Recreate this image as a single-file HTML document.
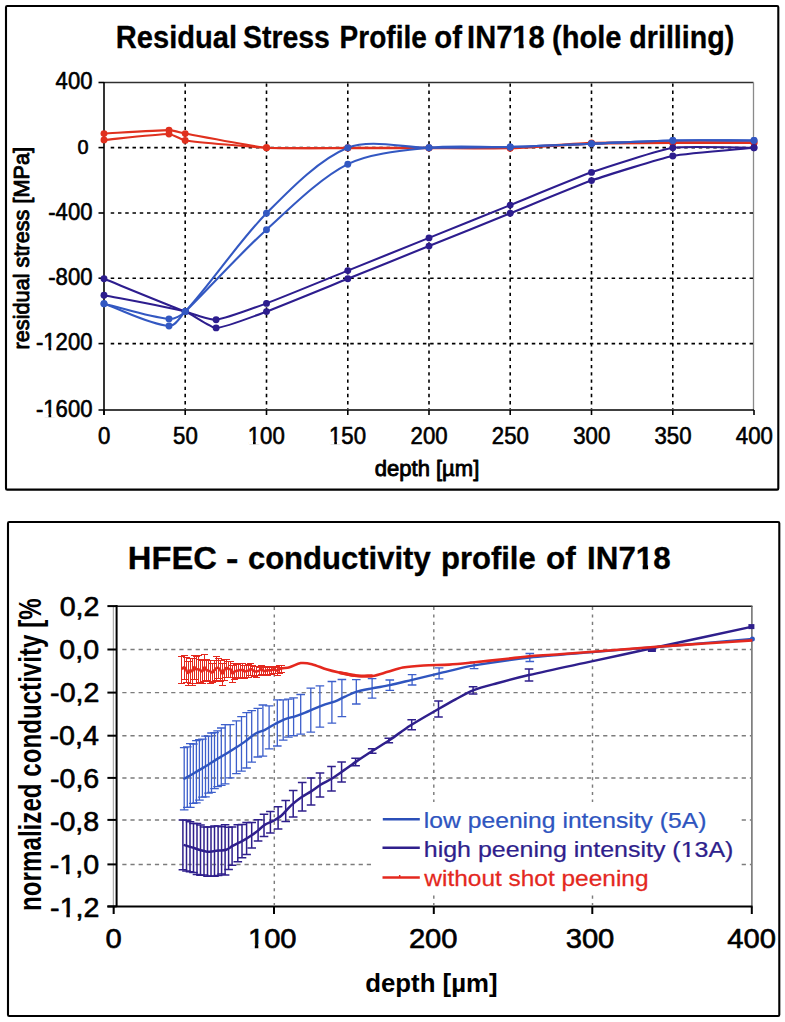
<!DOCTYPE html><html><head><meta charset="utf-8"><style>html,body{margin:0;padding:0;background:#fff;}svg{display:block;} text{font-family:"Liberation Sans", sans-serif;}</style></head><body>
<svg width="785" height="1022" viewBox="0 0 785 1022">
<defs><clipPath id="topclip"><rect x="96" y="75" width="665" height="345"/></clipPath><clipPath id="botclip"><rect x="117" y="606" width="640" height="300"/></clipPath></defs>
<rect width="785" height="1022" fill="#fff"/>
<rect x="6" y="6" width="772.3" height="483.6" rx="1.2" fill="none" stroke="#000" stroke-width="2.1"/>
<text transform="translate(115.85,47.90) scale(0.9381,1)" font-size="31.00" font-weight="bold" fill="#000" stroke="#000" stroke-width="0.30" stroke-linejoin="round">Residual</text>
<text transform="translate(242.98,47.90) scale(0.9166,1)" font-size="31.00" font-weight="bold" fill="#000" stroke="#000" stroke-width="0.30" stroke-linejoin="round">Stress</text>
<text transform="translate(339.62,47.90) scale(0.9043,1)" font-size="31.00" font-weight="bold" fill="#000" stroke="#000" stroke-width="0.30" stroke-linejoin="round">Profile</text>
<text transform="translate(434.25,47.90) scale(0.9463,1)" font-size="31.00" font-weight="bold" fill="#000" stroke="#000" stroke-width="0.30" stroke-linejoin="round">of</text>
<text transform="translate(467.05,47.90) scale(0.9386,1)" font-size="31.00" font-weight="bold" fill="#000" stroke="#000" stroke-width="0.30" stroke-linejoin="round">IN718</text>
<g transform="translate(467.05,47.90) scale(0.9386,1)" fill="#fff"><rect x="48.85" y="-4.84" width="6.08" height="6.21"/><rect x="60.27" y="-4.84" width="5.37" height="6.21"/></g>
<text transform="translate(551.95,47.90) scale(0.9392,1)" font-size="31.00" font-weight="bold" fill="#000" stroke="#000" stroke-width="0.30" stroke-linejoin="round">(hole</text>
<text transform="translate(629.33,47.90) scale(0.9230,1)" font-size="31.00" font-weight="bold" fill="#000" stroke="#000" stroke-width="0.30" stroke-linejoin="round">drilling)</text>
<line x1="104" y1="82.5" x2="753.5" y2="82.5" stroke="#303030" stroke-width="1.3"/>
<line x1="753.5" y1="82.5" x2="753.5" y2="410" stroke="#8a8a8a" stroke-width="1.3"/>
<line x1="110.7" y1="147.6" x2="753" y2="147.6" stroke="#000" stroke-width="1.6" stroke-dasharray="3.5 3.76"/>
<line x1="110.7" y1="213.0" x2="753" y2="213.0" stroke="#000" stroke-width="1.6" stroke-dasharray="3.5 3.76"/>
<line x1="110.7" y1="278.2" x2="753" y2="278.2" stroke="#000" stroke-width="1.6" stroke-dasharray="3.5 3.76"/>
<line x1="110.7" y1="343.6" x2="753" y2="343.6" stroke="#000" stroke-width="1.6" stroke-dasharray="3.5 3.76"/>
<line x1="185.2" y1="83.4" x2="185.2" y2="409" stroke="#000" stroke-width="1.6" stroke-dasharray="3.3 3.92"/>
<line x1="266.5" y1="83.4" x2="266.5" y2="409" stroke="#000" stroke-width="1.6" stroke-dasharray="3.3 3.92"/>
<line x1="347.8" y1="83.4" x2="347.8" y2="409" stroke="#000" stroke-width="1.6" stroke-dasharray="3.3 3.92"/>
<line x1="429.0" y1="83.4" x2="429.0" y2="409" stroke="#000" stroke-width="1.6" stroke-dasharray="3.3 3.92"/>
<line x1="510.2" y1="83.4" x2="510.2" y2="409" stroke="#000" stroke-width="1.6" stroke-dasharray="3.3 3.92"/>
<line x1="591.5" y1="83.4" x2="591.5" y2="409" stroke="#000" stroke-width="1.6" stroke-dasharray="3.3 3.92"/>
<line x1="672.8" y1="83.4" x2="672.8" y2="409" stroke="#000" stroke-width="1.6" stroke-dasharray="3.3 3.92"/>
<line x1="104" y1="82" x2="104" y2="415" stroke="#000" stroke-width="1.6"/>
<line x1="98.5" y1="410" x2="754" y2="410" stroke="#000" stroke-width="1.6"/>
<line x1="98.5" y1="82.5" x2="104" y2="82.5" stroke="#000" stroke-width="1.6"/>
<line x1="98.5" y1="147.6" x2="104" y2="147.6" stroke="#000" stroke-width="1.6"/>
<line x1="98.5" y1="213.0" x2="104" y2="213.0" stroke="#000" stroke-width="1.6"/>
<line x1="98.5" y1="278.2" x2="104" y2="278.2" stroke="#000" stroke-width="1.6"/>
<line x1="98.5" y1="343.6" x2="104" y2="343.6" stroke="#000" stroke-width="1.6"/>
<line x1="104.0" y1="410" x2="104.0" y2="415" stroke="#000" stroke-width="1.6"/>
<line x1="185.2" y1="410" x2="185.2" y2="415" stroke="#000" stroke-width="1.6"/>
<line x1="266.5" y1="410" x2="266.5" y2="415" stroke="#000" stroke-width="1.6"/>
<line x1="347.8" y1="410" x2="347.8" y2="415" stroke="#000" stroke-width="1.6"/>
<line x1="429.0" y1="410" x2="429.0" y2="415" stroke="#000" stroke-width="1.6"/>
<line x1="510.2" y1="410" x2="510.2" y2="415" stroke="#000" stroke-width="1.6"/>
<line x1="591.5" y1="410" x2="591.5" y2="415" stroke="#000" stroke-width="1.6"/>
<line x1="672.8" y1="410" x2="672.8" y2="415" stroke="#000" stroke-width="1.6"/>
<line x1="754.0" y1="410" x2="754.0" y2="415" stroke="#000" stroke-width="1.6"/>
<text transform="translate(55.62,89.20) scale(0.9600,1)" font-size="23.00" font-weight="normal" fill="#000" stroke="#000" stroke-width="0.60" stroke-linejoin="round">400</text>
<text transform="translate(48.27,219.70) scale(0.9600,1)" font-size="23.00" font-weight="normal" fill="#000" stroke="#000" stroke-width="0.60" stroke-linejoin="round">-400</text>
<text transform="translate(48.27,284.90) scale(0.9600,1)" font-size="23.00" font-weight="normal" fill="#000" stroke="#000" stroke-width="0.60" stroke-linejoin="round">-800</text>
<text transform="translate(35.99,350.30) scale(0.9600,1)" font-size="23.00" font-weight="normal" fill="#000" stroke="#000" stroke-width="0.60" stroke-linejoin="round">-1200</text>
<g transform="translate(35.99,350.30) scale(0.9600,1)" fill="#fff"><rect x="8.11" y="-2.98" width="4.96" height="3.99"/><rect x="15.85" y="-2.98" width="4.84" height="3.99"/></g>
<text transform="translate(35.99,416.70) scale(0.9600,1)" font-size="23.00" font-weight="normal" fill="#000" stroke="#000" stroke-width="0.60" stroke-linejoin="round">-1600</text>
<g transform="translate(35.99,416.70) scale(0.9600,1)" fill="#fff"><rect x="8.11" y="-2.98" width="4.96" height="3.99"/><rect x="15.85" y="-2.98" width="4.84" height="3.99"/></g>
<text transform="translate(77.61,154.00) scale(0.9800,1)" font-size="20.30" font-weight="normal" fill="#000" stroke="#000" stroke-width="0.60" stroke-linejoin="round">0</text>
<text transform="translate(98.03,443.60) scale(0.9650,1)" font-size="23.00" font-weight="normal" fill="#000" stroke="#000" stroke-width="0.60" stroke-linejoin="round">0</text>
<text transform="translate(173.10,443.60) scale(0.9650,1)" font-size="23.00" font-weight="normal" fill="#000" stroke="#000" stroke-width="0.60" stroke-linejoin="round">50</text>
<text transform="translate(247.77,443.60) scale(0.9650,1)" font-size="23.00" font-weight="normal" fill="#000" stroke="#000" stroke-width="0.60" stroke-linejoin="round">100</text>
<g transform="translate(247.77,443.60) scale(0.9650,1)" fill="#fff"><rect x="0.45" y="-2.98" width="4.96" height="3.99"/><rect x="8.19" y="-2.98" width="4.84" height="3.99"/></g>
<text transform="translate(329.02,443.60) scale(0.9650,1)" font-size="23.00" font-weight="normal" fill="#000" stroke="#000" stroke-width="0.60" stroke-linejoin="round">150</text>
<g transform="translate(329.02,443.60) scale(0.9650,1)" fill="#fff"><rect x="0.45" y="-2.98" width="4.96" height="3.99"/><rect x="8.19" y="-2.98" width="4.84" height="3.99"/></g>
<text transform="translate(410.56,443.60) scale(0.9650,1)" font-size="23.00" font-weight="normal" fill="#000" stroke="#000" stroke-width="0.60" stroke-linejoin="round">200</text>
<text transform="translate(491.81,443.60) scale(0.9650,1)" font-size="23.00" font-weight="normal" fill="#000" stroke="#000" stroke-width="0.60" stroke-linejoin="round">250</text>
<text transform="translate(573.20,443.60) scale(0.9650,1)" font-size="23.00" font-weight="normal" fill="#000" stroke="#000" stroke-width="0.60" stroke-linejoin="round">300</text>
<text transform="translate(654.45,443.60) scale(0.9650,1)" font-size="23.00" font-weight="normal" fill="#000" stroke="#000" stroke-width="0.60" stroke-linejoin="round">350</text>
<text transform="translate(735.86,443.60) scale(0.9650,1)" font-size="23.00" font-weight="normal" fill="#000" stroke="#000" stroke-width="0.60" stroke-linejoin="round">400</text>
<text transform="translate(374.78,475.80) scale(1.0102,1)" font-size="21.80" font-weight="normal" fill="#000" stroke="#000" stroke-width="0.85" stroke-linejoin="round">depth [µm]</text>
<text transform="translate(28.70,349.44) scale(1.0000,1) rotate(-90) scale(1.0009,1)" font-size="21.70" font-weight="normal" fill="#000" stroke="#000" stroke-width="0.90" stroke-linejoin="round">residual stress [MPa]</text>
<g clip-path="url(#topclip)">
<path d="M104.00 133.55 C113.75 133.04 159.24 130.12 169.00 130.12 C171.49 130.12 182.80 133.11 185.25 133.55 C197.42 135.76 254.17 146.72 266.50 147.80 C278.64 148.86 335.56 147.80 347.75 147.80 C359.94 147.80 416.81 147.80 429.00 147.80 C441.19 147.80 498.07 148.17 510.25 147.80 C522.45 147.43 579.30 143.29 591.50 142.89 C603.68 142.48 660.56 142.43 672.75 142.40 C684.94 142.36 741.81 142.40 754.00 142.40" fill="none" stroke="#e0301e" stroke-width="2.1" stroke-linejoin="round"/>
<circle cx="104.0" cy="133.6" r="3.45" fill="#e0301e"/>
<circle cx="169.0" cy="130.1" r="3.45" fill="#e0301e"/>
<circle cx="185.2" cy="133.6" r="3.45" fill="#e0301e"/>
<circle cx="266.5" cy="147.8" r="3.45" fill="#e0301e"/>
<circle cx="347.8" cy="147.8" r="3.45" fill="#e0301e"/>
<circle cx="429.0" cy="147.8" r="3.45" fill="#e0301e"/>
<circle cx="510.2" cy="147.8" r="3.45" fill="#e0301e"/>
<circle cx="591.5" cy="142.9" r="3.45" fill="#e0301e"/>
<circle cx="672.8" cy="142.4" r="3.45" fill="#e0301e"/>
<circle cx="754.0" cy="142.4" r="3.45" fill="#e0301e"/>
<path d="M104.00 139.94 C113.75 139.06 159.21 133.99 169.00 134.05 C171.62 134.06 182.66 140.07 185.25 140.43 C197.37 142.14 254.28 147.22 266.50 147.80 C278.67 148.38 335.56 148.10 347.75 148.13 C359.94 148.15 416.81 148.12 429.00 148.13 C441.19 148.14 498.07 148.62 510.25 148.29 C522.45 147.96 579.30 144.11 591.50 143.71 C603.68 143.30 660.56 142.95 672.75 142.89 C684.94 142.83 741.81 142.89 754.00 142.89" fill="none" stroke="#e0301e" stroke-width="2.1" stroke-linejoin="round"/>
<circle cx="104.0" cy="139.9" r="3.45" fill="#e0301e"/>
<circle cx="169.0" cy="134.0" r="3.45" fill="#e0301e"/>
<circle cx="185.2" cy="140.4" r="3.45" fill="#e0301e"/>
<circle cx="266.5" cy="147.8" r="3.45" fill="#e0301e"/>
<circle cx="347.8" cy="148.1" r="3.45" fill="#e0301e"/>
<circle cx="429.0" cy="148.1" r="3.45" fill="#e0301e"/>
<circle cx="510.2" cy="148.3" r="3.45" fill="#e0301e"/>
<circle cx="591.5" cy="143.7" r="3.45" fill="#e0301e"/>
<circle cx="672.8" cy="142.9" r="3.45" fill="#e0301e"/>
<circle cx="754.0" cy="142.9" r="3.45" fill="#e0301e"/>
<path d="M104.00 278.80 C116.19 283.71 172.91 307.04 185.25 311.55 C189.75 313.19 211.36 320.22 216.12 319.74 C224.03 318.94 259.06 306.14 266.50 303.36 C278.81 298.77 335.56 275.53 347.75 270.61 C359.94 265.70 416.81 242.78 429.00 237.86 C441.19 232.95 498.06 210.03 510.25 205.11 C522.44 200.20 579.11 176.73 591.50 172.36 C603.51 168.13 660.16 149.70 672.75 147.80 C684.80 145.98 741.81 147.80 754.00 147.80" fill="none" stroke="#2d1d8e" stroke-width="2.1" stroke-linejoin="round"/>
<circle cx="104.0" cy="278.8" r="3.45" fill="#2d1d8e"/>
<circle cx="185.2" cy="311.6" r="3.45" fill="#2d1d8e"/>
<circle cx="216.1" cy="319.7" r="3.45" fill="#2d1d8e"/>
<circle cx="266.5" cy="303.4" r="3.45" fill="#2d1d8e"/>
<circle cx="347.8" cy="270.6" r="3.45" fill="#2d1d8e"/>
<circle cx="429.0" cy="237.9" r="3.45" fill="#2d1d8e"/>
<circle cx="510.2" cy="205.1" r="3.45" fill="#2d1d8e"/>
<circle cx="591.5" cy="172.4" r="3.45" fill="#2d1d8e"/>
<circle cx="672.8" cy="147.8" r="3.45" fill="#2d1d8e"/>
<circle cx="754.0" cy="147.8" r="3.45" fill="#2d1d8e"/>
<path d="M104.00 295.18 C116.19 297.63 173.32 308.06 185.25 311.55 C190.28 313.02 210.88 327.93 216.12 327.93 C224.07 327.93 259.06 314.33 266.50 311.55 C278.81 306.96 335.56 283.71 347.75 278.80 C359.94 273.89 416.81 250.96 429.00 246.05 C441.19 241.14 498.06 218.21 510.25 213.30 C522.44 208.39 579.11 184.92 591.50 180.55 C603.51 176.32 660.27 158.50 672.75 155.99 C684.76 153.57 741.81 149.03 754.00 147.80" fill="none" stroke="#2d1d8e" stroke-width="2.1" stroke-linejoin="round"/>
<circle cx="104.0" cy="295.2" r="3.45" fill="#2d1d8e"/>
<circle cx="185.2" cy="311.6" r="3.45" fill="#2d1d8e"/>
<circle cx="216.1" cy="327.9" r="3.45" fill="#2d1d8e"/>
<circle cx="266.5" cy="311.6" r="3.45" fill="#2d1d8e"/>
<circle cx="347.8" cy="278.8" r="3.45" fill="#2d1d8e"/>
<circle cx="429.0" cy="246.1" r="3.45" fill="#2d1d8e"/>
<circle cx="510.2" cy="213.3" r="3.45" fill="#2d1d8e"/>
<circle cx="591.5" cy="180.6" r="3.45" fill="#2d1d8e"/>
<circle cx="672.8" cy="156.0" r="3.45" fill="#2d1d8e"/>
<circle cx="754.0" cy="147.8" r="3.45" fill="#2d1d8e"/>
<path d="M104.00 303.69 C123.50 308.26 149.07 316.99 169.00 318.92 C174.33 319.43 181.62 315.48 185.25 311.55 C211.19 283.45 239.56 240.45 266.50 213.30 C288.55 191.08 318.71 159.50 347.75 147.80 C370.36 138.69 404.63 147.92 429.00 147.80 C453.38 147.68 485.88 147.60 510.25 146.98 C534.64 146.37 567.12 144.69 591.50 143.71 C615.88 142.72 648.36 140.92 672.75 140.43 C697.12 139.94 729.62 140.43 754.00 140.43" fill="none" stroke="#3358c2" stroke-width="2.1" stroke-linejoin="round"/>
<circle cx="104.0" cy="303.7" r="3.45" fill="#3358c2"/>
<circle cx="169.0" cy="318.9" r="3.45" fill="#3358c2"/>
<circle cx="185.2" cy="311.6" r="3.45" fill="#3358c2"/>
<circle cx="266.5" cy="213.3" r="3.45" fill="#3358c2"/>
<circle cx="347.8" cy="147.8" r="3.45" fill="#3358c2"/>
<circle cx="429.0" cy="147.8" r="3.45" fill="#3358c2"/>
<circle cx="510.2" cy="147.0" r="3.45" fill="#3358c2"/>
<circle cx="591.5" cy="143.7" r="3.45" fill="#3358c2"/>
<circle cx="672.8" cy="140.4" r="3.45" fill="#3358c2"/>
<circle cx="754.0" cy="140.4" r="3.45" fill="#3358c2"/>
<path d="M104.00 303.69 C123.50 310.37 148.48 323.98 169.00 325.96 C175.49 326.59 180.61 316.13 185.25 311.55 C209.87 287.23 240.87 252.92 266.50 229.68 C289.69 208.64 319.79 178.26 347.75 164.18 C369.96 152.99 404.27 150.42 429.00 147.80 C453.24 145.24 485.88 147.60 510.25 146.98 C534.64 146.37 567.12 144.69 591.50 143.71 C615.88 142.72 648.36 140.92 672.75 140.43 C697.12 139.94 729.62 140.43 754.00 140.43" fill="none" stroke="#3358c2" stroke-width="2.1" stroke-linejoin="round"/>
<circle cx="104.0" cy="303.7" r="3.45" fill="#3358c2"/>
<circle cx="169.0" cy="326.0" r="3.45" fill="#3358c2"/>
<circle cx="185.2" cy="311.6" r="3.45" fill="#3358c2"/>
<circle cx="266.5" cy="229.7" r="3.45" fill="#3358c2"/>
<circle cx="347.8" cy="164.2" r="3.45" fill="#3358c2"/>
<circle cx="429.0" cy="147.8" r="3.45" fill="#3358c2"/>
<circle cx="510.2" cy="147.0" r="3.45" fill="#3358c2"/>
<circle cx="591.5" cy="143.7" r="3.45" fill="#3358c2"/>
<circle cx="672.8" cy="140.4" r="3.45" fill="#3358c2"/>
<circle cx="754.0" cy="140.4" r="3.45" fill="#3358c2"/>
</g>
<rect x="8" y="522" width="771.3" height="494" rx="1.2" fill="none" stroke="#000" stroke-width="2.1"/>
<text transform="translate(127.81,568.70) scale(1.0730,1)" font-size="30.50" font-weight="bold" fill="#000" stroke="#000" stroke-width="0.30" stroke-linejoin="round">HFEC</text>
<text transform="translate(226.04,568.70) scale(1.2267,1)" font-size="30.50" font-weight="bold" fill="#000" stroke="#000" stroke-width="0.30" stroke-linejoin="round">-</text>
<text transform="translate(247.89,568.70) scale(1.0181,1)" font-size="30.50" font-weight="bold" fill="#000" stroke="#000" stroke-width="0.30" stroke-linejoin="round">conductivity</text>
<text transform="translate(440.95,568.70) scale(1.0173,1)" font-size="30.50" font-weight="bold" fill="#000" stroke="#000" stroke-width="0.30" stroke-linejoin="round">profile</text>
<text transform="translate(546.07,568.70) scale(1.0342,1)" font-size="30.50" font-weight="bold" fill="#000" stroke="#000" stroke-width="0.30" stroke-linejoin="round">of</text>
<text transform="translate(587.10,568.70) scale(1.0279,1)" font-size="30.50" font-weight="bold" fill="#000" stroke="#000" stroke-width="0.30" stroke-linejoin="round">IN718</text>
<g transform="translate(587.10,568.70) scale(1.0279,1)" fill="#fff"><rect x="48.06" y="-4.77" width="5.99" height="6.11"/><rect x="59.30" y="-4.77" width="5.29" height="6.11"/></g>
<line x1="116" y1="606.2" x2="752.4" y2="606.2" stroke="#1a1a1a" stroke-width="1.4"/>
<line x1="751.9" y1="606" x2="751.9" y2="906.4" stroke="#606060" stroke-width="1.4"/>
<line x1="122.3" y1="649.5" x2="751" y2="649.5" stroke="#7c7c7c" stroke-width="1.45" stroke-dasharray="4.2 3.95"/>
<line x1="122.3" y1="692.6" x2="751" y2="692.6" stroke="#7c7c7c" stroke-width="1.45" stroke-dasharray="4.2 3.95"/>
<line x1="122.3" y1="735.7" x2="751" y2="735.7" stroke="#7c7c7c" stroke-width="1.45" stroke-dasharray="4.2 3.95"/>
<line x1="122.3" y1="777.9" x2="751" y2="777.9" stroke="#7c7c7c" stroke-width="1.45" stroke-dasharray="4.2 3.95"/>
<line x1="122.3" y1="819.9" x2="751" y2="819.9" stroke="#7c7c7c" stroke-width="1.45" stroke-dasharray="4.2 3.95"/>
<line x1="122.3" y1="864.4" x2="751" y2="864.4" stroke="#7c7c7c" stroke-width="1.45" stroke-dasharray="4.2 3.95"/>
<line x1="274.3" y1="607" x2="274.3" y2="905" stroke="#7c7c7c" stroke-width="1.45" stroke-dasharray="3.1 4.3"/>
<line x1="433.8" y1="607" x2="433.8" y2="905" stroke="#7c7c7c" stroke-width="1.45" stroke-dasharray="3.1 4.3"/>
<line x1="592.5" y1="607" x2="592.5" y2="905" stroke="#7c7c7c" stroke-width="1.45" stroke-dasharray="3.1 4.3"/>
<line x1="113.3" y1="606" x2="113.3" y2="914" stroke="#9a9a9a" stroke-width="1"/>
<line x1="116.6" y1="605" x2="116.6" y2="907" stroke="#000" stroke-width="2"/>
<line x1="107.4" y1="906.4" x2="752.5" y2="906.4" stroke="#000" stroke-width="2"/>
<line x1="107.4" y1="606.1" x2="116.6" y2="606.1" stroke="#000" stroke-width="2"/>
<line x1="107.4" y1="649.5" x2="116.6" y2="649.5" stroke="#000" stroke-width="2"/>
<line x1="107.4" y1="692.6" x2="116.6" y2="692.6" stroke="#000" stroke-width="2"/>
<line x1="107.4" y1="735.7" x2="116.6" y2="735.7" stroke="#000" stroke-width="2"/>
<line x1="107.4" y1="777.9" x2="116.6" y2="777.9" stroke="#000" stroke-width="2"/>
<line x1="107.4" y1="819.9" x2="116.6" y2="819.9" stroke="#000" stroke-width="2"/>
<line x1="107.4" y1="864.4" x2="116.6" y2="864.4" stroke="#000" stroke-width="2"/>
<line x1="107.4" y1="906.4" x2="116.6" y2="906.4" stroke="#000" stroke-width="2"/>
<line x1="113.7" y1="906.4" x2="113.7" y2="914" stroke="#000" stroke-width="2"/>
<line x1="274.0" y1="906.4" x2="274.0" y2="914" stroke="#000" stroke-width="2"/>
<line x1="433.8" y1="906.4" x2="433.8" y2="914" stroke="#000" stroke-width="2"/>
<line x1="592.3" y1="906.4" x2="592.3" y2="914" stroke="#000" stroke-width="2"/>
<line x1="751.8" y1="906.4" x2="751.8" y2="914" stroke="#000" stroke-width="2"/>
<text transform="translate(59.65,616.40) scale(1.0600,1)" font-size="27.00" font-weight="normal" fill="#000" stroke="#000" stroke-width="0.60" stroke-linejoin="round">0,2</text>
<text transform="translate(59.33,659.31) scale(1.0600,1)" font-size="27.00" font-weight="normal" fill="#000" stroke="#000" stroke-width="0.60" stroke-linejoin="round">0,0</text>
<text transform="translate(50.12,702.23) scale(1.0600,1)" font-size="27.00" font-weight="normal" fill="#000" stroke="#000" stroke-width="0.60" stroke-linejoin="round">-0,2</text>
<text transform="translate(49.52,745.14) scale(1.0600,1)" font-size="27.00" font-weight="normal" fill="#000" stroke="#000" stroke-width="0.60" stroke-linejoin="round">-0,4</text>
<text transform="translate(49.94,788.06) scale(1.0600,1)" font-size="27.00" font-weight="normal" fill="#000" stroke="#000" stroke-width="0.60" stroke-linejoin="round">-0,6</text>
<text transform="translate(49.93,830.97) scale(1.0600,1)" font-size="27.00" font-weight="normal" fill="#000" stroke="#000" stroke-width="0.60" stroke-linejoin="round">-0,8</text>
<text transform="translate(49.80,873.88) scale(1.0600,1)" font-size="27.00" font-weight="normal" fill="#000" stroke="#000" stroke-width="0.60" stroke-linejoin="round">-1,0</text>
<g transform="translate(49.80,873.88) scale(1.0600,1)" fill="#fff"><rect x="9.52" y="-3.49" width="5.83" height="4.68"/><rect x="18.60" y="-3.49" width="5.68" height="4.68"/></g>
<text transform="translate(50.12,916.80) scale(1.0600,1)" font-size="27.00" font-weight="normal" fill="#000" stroke="#000" stroke-width="0.60" stroke-linejoin="round">-1,2</text>
<g transform="translate(50.12,916.80) scale(1.0600,1)" fill="#fff"><rect x="9.52" y="-3.49" width="5.83" height="4.68"/><rect x="18.60" y="-3.49" width="5.68" height="4.68"/></g>
<text transform="translate(105.39,947.70) scale(1.0800,1)" font-size="27.00" font-weight="normal" fill="#000" stroke="#000" stroke-width="0.60" stroke-linejoin="round">0</text>
<text transform="translate(247.93,947.70) scale(1.0800,1)" font-size="27.00" font-weight="normal" fill="#000" stroke="#000" stroke-width="0.60" stroke-linejoin="round">100</text>
<g transform="translate(247.93,947.70) scale(1.0800,1)" fill="#fff"><rect x="0.53" y="-3.49" width="5.83" height="4.68"/><rect x="9.61" y="-3.49" width="5.68" height="4.68"/></g>
<text transform="translate(408.91,947.70) scale(1.0800,1)" font-size="27.00" font-weight="normal" fill="#000" stroke="#000" stroke-width="0.60" stroke-linejoin="round">200</text>
<text transform="translate(565.69,947.70) scale(1.0800,1)" font-size="27.00" font-weight="normal" fill="#000" stroke="#000" stroke-width="0.60" stroke-linejoin="round">300</text>
<text transform="translate(727.21,947.70) scale(1.0800,1)" font-size="27.00" font-weight="normal" fill="#000" stroke="#000" stroke-width="0.60" stroke-linejoin="round">400</text>
<text transform="translate(365.14,992.20) scale(1.0128,1)" font-size="25.50" font-weight="bold" fill="#000">depth [µm]</text>
<text transform="translate(41.30,910.89) scale(1.2800,1) rotate(-90) scale(1.0062,1)" font-size="24.00" font-weight="bold" fill="#000">normalized conductivity [%</text>
<g clip-path="url(#botclip)">
<path d="M184.2 747.6 V809.8 M179.9 747.6 H188.5 M179.9 809.8 H188.5" stroke="#3d5fcb" stroke-width="1.3" fill="none"/>
<path d="M187.3 746.8 V807.4 M183.0 746.8 H191.6 M183.0 807.4 H191.6" stroke="#3d5fcb" stroke-width="1.3" fill="none"/>
<path d="M190.3 743.6 V807.3 M186.0 743.6 H194.6 M186.0 807.3 H194.6" stroke="#3d5fcb" stroke-width="1.3" fill="none"/>
<path d="M193.3 744.0 V803.3 M189.0 744.0 H197.6 M189.0 803.3 H197.6" stroke="#3d5fcb" stroke-width="1.3" fill="none"/>
<path d="M196.4 740.7 V802.8 M192.1 740.7 H200.7 M192.1 802.8 H200.7" stroke="#3d5fcb" stroke-width="1.3" fill="none"/>
<path d="M199.4 739.7 V800.2 M195.1 739.7 H203.7 M195.1 800.2 H203.7" stroke="#3d5fcb" stroke-width="1.3" fill="none"/>
<path d="M202.4 739.2 V797.2 M198.1 739.2 H206.7 M198.1 797.2 H206.7" stroke="#3d5fcb" stroke-width="1.3" fill="none"/>
<path d="M205.5 736.1 V796.8 M201.2 736.1 H209.8 M201.2 796.8 H209.8" stroke="#3d5fcb" stroke-width="1.3" fill="none"/>
<path d="M208.5 736.1 V793.1 M204.2 736.1 H212.8 M204.2 793.1 H212.8" stroke="#3d5fcb" stroke-width="1.3" fill="none"/>
<path d="M211.5 733.0 V792.3 M207.2 733.0 H215.8 M207.2 792.3 H215.8" stroke="#3d5fcb" stroke-width="1.3" fill="none"/>
<path d="M214.5 732.6 V788.7 M210.2 732.6 H218.8 M210.2 788.7 H218.8" stroke="#3d5fcb" stroke-width="1.3" fill="none"/>
<path d="M217.6 730.9 V786.6 M213.3 730.9 H221.9 M213.3 786.6 H221.9" stroke="#3d5fcb" stroke-width="1.3" fill="none"/>
<path d="M221.3 728.0 V785.3 M217.0 728.0 H225.6 M217.0 785.3 H225.6" stroke="#3d5fcb" stroke-width="1.3" fill="none"/>
<path d="M225.2 724.7 V783.9 M220.9 724.7 H229.5 M220.9 783.9 H229.5" stroke="#3d5fcb" stroke-width="1.3" fill="none"/>
<path d="M230.2 724.6 V777.9 M225.9 724.6 H234.5 M225.9 777.9 H234.5" stroke="#3d5fcb" stroke-width="1.3" fill="none"/>
<path d="M236.4 720.9 V773.7 M232.1 720.9 H240.7 M232.1 773.7 H240.7" stroke="#3d5fcb" stroke-width="1.3" fill="none"/>
<path d="M241.5 716.6 V771.1 M237.2 716.6 H245.8 M237.2 771.1 H245.8" stroke="#3d5fcb" stroke-width="1.3" fill="none"/>
<path d="M246.6 712.6 V768.0 M242.3 712.6 H250.9 M242.3 768.0 H250.9" stroke="#3d5fcb" stroke-width="1.3" fill="none"/>
<path d="M251.7 710.6 V762.1 M247.4 710.6 H256.0 M247.4 762.1 H256.0" stroke="#3d5fcb" stroke-width="1.3" fill="none"/>
<path d="M257.8 708.4 V757.0 M253.5 708.4 H262.1 M253.5 757.0 H262.1" stroke="#3d5fcb" stroke-width="1.3" fill="none"/>
<path d="M262.9 705.0 V756.2 M258.6 705.0 H267.2 M258.6 756.2 H267.2" stroke="#3d5fcb" stroke-width="1.3" fill="none"/>
<path d="M269.1 705.9 V748.9 M264.8 705.9 H273.4 M264.8 748.9 H273.4" stroke="#3d5fcb" stroke-width="1.3" fill="none"/>
<path d="M277.3 699.9 V746.0 M273.0 699.9 H281.6 M273.0 746.0 H281.6" stroke="#3d5fcb" stroke-width="1.3" fill="none"/>
<path d="M283.2 699.8 V740.2 M278.9 699.8 H287.5 M278.9 740.2 H287.5" stroke="#3d5fcb" stroke-width="1.3" fill="none"/>
<path d="M288.4 699.2 V737.1 M284.1 699.2 H292.7 M284.1 737.1 H292.7" stroke="#3d5fcb" stroke-width="1.3" fill="none"/>
<path d="M293.6 697.9 V735.6 M289.2 697.9 H297.9 M289.2 735.6 H297.9" stroke="#3d5fcb" stroke-width="1.3" fill="none"/>
<path d="M300.7 694.5 V734.1 M296.4 694.5 H305.0 M296.4 734.1 H305.0" stroke="#3d5fcb" stroke-width="1.3" fill="none"/>
<path d="M310.8 688.2 V732.2 M306.5 688.2 H315.1 M306.5 732.2 H315.1" stroke="#3d5fcb" stroke-width="1.3" fill="none"/>
<path d="M319.9 685.8 V727.2 M315.6 685.8 H324.2 M315.6 727.2 H324.2" stroke="#3d5fcb" stroke-width="1.3" fill="none"/>
<path d="M331.9 681.5 V723.2 M327.6 681.5 H336.2 M327.6 723.2 H336.2" stroke="#3d5fcb" stroke-width="1.3" fill="none"/>
<path d="M341.9 679.5 V716.7 M337.6 679.5 H346.2 M337.6 716.7 H346.2" stroke="#3d5fcb" stroke-width="1.3" fill="none"/>
<path d="M356.3 679.7 V704.0 M352.0 679.7 H360.6 M352.0 704.0 H360.6" stroke="#3d5fcb" stroke-width="1.3" fill="none"/>
<path d="M372.1 678.7 V698.1 M367.8 678.7 H376.4 M367.8 698.1 H376.4" stroke="#3d5fcb" stroke-width="1.3" fill="none"/>
<path d="M389.8 680.0 V690.4 M385.5 680.0 H394.1 M385.5 690.4 H394.1" stroke="#3d5fcb" stroke-width="1.3" fill="none"/>
<path d="M412.1 674.7 V685.0 M407.8 674.7 H416.4 M407.8 685.0 H416.4" stroke="#3d5fcb" stroke-width="1.3" fill="none"/>
<path d="M439.1 667.9 V678.8 M434.8 667.9 H443.4 M434.8 678.8 H443.4" stroke="#3d5fcb" stroke-width="1.3" fill="none"/>
<path d="M474.1 662.2 V668.7 M469.8 662.2 H478.4 M469.8 668.7 H478.4" stroke="#3d5fcb" stroke-width="1.3" fill="none"/>
<path d="M529.8 653.5 V661.5 M525.5 653.5 H534.1 M525.5 661.5 H534.1" stroke="#3d5fcb" stroke-width="1.3" fill="none"/>
<path d="M183.43 779.16 C185.58 778.00 188.49 776.52 190.61 775.30 C193.04 773.88 196.17 771.79 198.59 770.36 C200.95 768.96 204.22 767.29 206.57 765.85 C209.49 764.07 213.23 761.43 216.14 759.63 C218.97 757.89 222.88 755.77 225.72 754.05 C228.62 752.30 232.45 749.89 235.30 748.05 C238.20 746.16 242.06 743.63 244.87 741.61 C248.05 739.32 251.87 735.65 255.25 733.67 C257.96 732.08 262.16 731.18 264.98 729.81 C268.11 728.28 271.96 725.65 275.04 724.01 C278.00 722.43 281.95 720.28 285.09 719.08 C288.01 717.96 292.16 717.24 295.15 716.29 C298.20 715.31 302.22 713.83 305.20 712.64 C308.21 711.44 312.10 709.57 315.10 708.35 C318.09 707.13 322.10 705.56 325.15 704.49 C328.14 703.44 332.26 702.44 335.21 701.27 C338.26 700.05 342.10 697.89 345.10 696.55 C348.42 695.06 352.79 692.88 356.27 691.83 C360.92 690.42 367.32 689.34 372.07 688.39 C377.37 687.34 384.51 686.31 389.79 685.18 C396.53 683.73 405.43 681.42 412.13 679.81 C420.22 677.88 431.00 675.26 439.11 673.37 C449.58 670.94 463.47 667.29 474.06 665.44 C490.68 662.52 512.98 659.38 529.76 657.50 C548.62 655.38 573.88 653.70 592.80 652.13 C616.74 650.15 648.66 647.66 672.60 645.70 C696.54 643.73 728.46 641.04 752.40 639.04" fill="none" stroke="#2f55bf" stroke-width="2.4"/>
<circle cx="752.4" cy="639.0" r="2.5" fill="#2f55bf"/>
<path d="M182.9 819.9 V869.7 M178.6 819.9 H187.2 M178.6 869.7 H187.2" stroke="#2f1f8c" stroke-width="1.5" fill="none"/>
<path d="M186.5 820.3 V871.1 M182.2 820.3 H190.8 M182.2 871.1 H190.8" stroke="#2f1f8c" stroke-width="1.5" fill="none"/>
<path d="M190.0 821.8 V871.8 M185.7 821.8 H194.3 M185.7 871.8 H194.3" stroke="#2f1f8c" stroke-width="1.5" fill="none"/>
<path d="M193.5 823.4 V872.4 M189.2 823.4 H197.8 M189.2 872.4 H197.8" stroke="#2f1f8c" stroke-width="1.5" fill="none"/>
<path d="M197.0 823.5 V874.5 M192.7 823.5 H201.3 M192.7 874.5 H201.3" stroke="#2f1f8c" stroke-width="1.5" fill="none"/>
<path d="M200.5 824.9 V875.2 M196.2 824.9 H204.8 M196.2 875.2 H204.8" stroke="#2f1f8c" stroke-width="1.5" fill="none"/>
<path d="M204.0 826.9 V875.0 M199.7 826.9 H208.3 M199.7 875.0 H208.3" stroke="#2f1f8c" stroke-width="1.5" fill="none"/>
<path d="M207.5 827.0 V876.3 M203.2 827.0 H211.8 M203.2 876.3 H211.8" stroke="#2f1f8c" stroke-width="1.5" fill="none"/>
<path d="M211.0 826.9 V875.9 M206.7 826.9 H215.3 M206.7 875.9 H215.3" stroke="#2f1f8c" stroke-width="1.5" fill="none"/>
<path d="M214.5 826.0 V876.3 M210.2 826.0 H218.8 M210.2 876.3 H218.8" stroke="#2f1f8c" stroke-width="1.5" fill="none"/>
<path d="M218.1 826.1 V875.5 M213.8 826.1 H222.4 M213.8 875.5 H222.4" stroke="#2f1f8c" stroke-width="1.5" fill="none"/>
<path d="M221.6 826.7 V874.1 M217.3 826.7 H225.9 M217.3 874.1 H225.9" stroke="#2f1f8c" stroke-width="1.5" fill="none"/>
<path d="M225.1 824.8 V875.0 M220.8 824.8 H229.4 M220.8 875.0 H229.4" stroke="#2f1f8c" stroke-width="1.5" fill="none"/>
<path d="M228.6 827.2 V869.4 M224.3 827.2 H232.9 M224.3 869.4 H232.9" stroke="#2f1f8c" stroke-width="1.5" fill="none"/>
<path d="M232.1 827.1 V865.3 M227.8 827.1 H236.4 M227.8 865.3 H236.4" stroke="#2f1f8c" stroke-width="1.5" fill="none"/>
<path d="M237.8 824.8 V861.7 M233.5 824.8 H242.1 M233.5 861.7 H242.1" stroke="#2f1f8c" stroke-width="1.5" fill="none"/>
<path d="M242.0 824.4 V857.8 M237.7 824.4 H246.3 M237.7 857.8 H246.3" stroke="#2f1f8c" stroke-width="1.5" fill="none"/>
<path d="M246.6 822.5 V854.5 M242.3 822.5 H250.9 M242.3 854.5 H250.9" stroke="#2f1f8c" stroke-width="1.5" fill="none"/>
<path d="M251.7 822.5 V847.9 M247.4 822.5 H256.0 M247.4 847.9 H256.0" stroke="#2f1f8c" stroke-width="1.5" fill="none"/>
<path d="M258.1 819.8 V841.1 M253.8 819.8 H262.4 M253.8 841.1 H262.4" stroke="#2f1f8c" stroke-width="1.5" fill="none"/>
<path d="M264.0 814.2 V836.6 M259.7 814.2 H268.3 M259.7 836.6 H268.3" stroke="#2f1f8c" stroke-width="1.5" fill="none"/>
<path d="M270.4 811.4 V832.9 M266.1 811.4 H274.7 M266.1 832.9 H274.7" stroke="#2f1f8c" stroke-width="1.5" fill="none"/>
<path d="M278.1 806.8 V829.0 M273.8 806.8 H282.4 M273.8 829.0 H282.4" stroke="#2f1f8c" stroke-width="1.5" fill="none"/>
<path d="M285.7 800.5 V821.6 M281.4 800.5 H290.0 M281.4 821.6 H290.0" stroke="#2f1f8c" stroke-width="1.5" fill="none"/>
<path d="M293.2 790.4 V817.0 M288.9 790.4 H297.5 M288.9 817.0 H297.5" stroke="#2f1f8c" stroke-width="1.5" fill="none"/>
<path d="M302.2 782.6 V810.9 M297.9 782.6 H306.5 M297.9 810.9 H306.5" stroke="#2f1f8c" stroke-width="1.5" fill="none"/>
<path d="M311.1 778.0 V804.9 M306.8 778.0 H315.4 M306.8 804.9 H315.4" stroke="#2f1f8c" stroke-width="1.5" fill="none"/>
<path d="M320.0 773.1 V797.0 M315.7 773.1 H324.3 M315.7 797.0 H324.3" stroke="#2f1f8c" stroke-width="1.5" fill="none"/>
<path d="M331.5 766.4 V791.0 M327.2 766.4 H335.8 M327.2 791.0 H335.8" stroke="#2f1f8c" stroke-width="1.5" fill="none"/>
<path d="M341.6 761.9 V781.9 M337.3 761.9 H345.9 M337.3 781.9 H345.9" stroke="#2f1f8c" stroke-width="1.5" fill="none"/>
<path d="M355.6 758.2 V765.8 M351.3 758.2 H359.9 M351.3 765.8 H359.9" stroke="#2f1f8c" stroke-width="1.5" fill="none"/>
<path d="M372.2 748.8 V753.3 M367.9 748.8 H376.5 M367.9 753.3 H376.5" stroke="#2f1f8c" stroke-width="1.5" fill="none"/>
<path d="M388.8 738.2 V742.8 M384.5 738.2 H393.1 M384.5 742.8 H393.1" stroke="#2f1f8c" stroke-width="1.5" fill="none"/>
<path d="M411.7 719.8 V729.7 M407.4 719.8 H416.0 M407.4 729.7 H416.0" stroke="#2f1f8c" stroke-width="1.5" fill="none"/>
<path d="M438.5 701.0 V717.0 M434.2 701.0 H442.8 M434.2 717.0 H442.8" stroke="#2f1f8c" stroke-width="1.5" fill="none"/>
<path d="M473.1 686.7 V694.0 M468.8 686.7 H477.4 M468.8 694.0 H477.4" stroke="#2f1f8c" stroke-width="1.5" fill="none"/>
<path d="M529.0 669.0 V681.1 M524.7 669.0 H533.3 M524.7 681.1 H533.3" stroke="#2f1f8c" stroke-width="1.5" fill="none"/>
<path d="M183.59 844.82 C186.08 845.59 189.40 846.62 191.88 847.39 C194.57 848.23 198.12 849.42 200.82 850.18 C202.67 850.70 205.13 851.52 207.05 851.68 C208.96 851.85 211.52 851.41 213.43 851.25 C215.35 851.09 217.90 850.83 219.81 850.61 C221.73 850.38 224.39 850.42 226.20 849.75 C228.30 848.98 230.63 846.97 232.58 845.89 C234.46 844.85 237.06 843.65 238.97 842.67 C240.84 841.71 243.37 840.50 245.19 839.45 C247.06 838.38 249.48 836.81 251.26 835.59 C253.22 834.24 255.78 832.36 257.64 830.87 C259.80 829.14 262.33 826.35 264.66 824.86 C267.21 823.24 271.10 822.00 273.76 820.57 C276.00 819.36 279.03 817.74 280.94 816.06 C284.28 813.14 287.89 808.35 291.16 805.34 C294.04 802.67 298.15 799.42 301.37 797.18 C304.29 795.16 308.60 793.11 311.58 791.17 C314.26 789.44 317.50 786.64 320.20 784.95 C323.49 782.90 328.24 780.77 331.53 778.73 C335.43 776.32 340.38 772.75 344.14 770.15 C348.00 767.47 353.03 763.77 356.91 761.13 C361.46 758.04 367.61 754.04 372.23 751.05 C377.57 747.60 384.83 743.21 390.11 739.68 C396.27 735.55 404.11 729.49 410.38 725.52 C418.63 720.28 430.01 713.90 438.47 708.99 C443.56 706.04 450.36 702.13 455.54 699.34 C460.76 696.53 467.58 692.47 473.10 690.33 C480.08 687.62 489.81 685.22 497.04 683.25 C506.58 680.64 519.33 677.31 528.96 675.09 C548.06 670.68 573.65 665.32 592.80 661.14 C610.51 657.28 634.13 652.11 651.85 648.27 C682.01 641.74 722.24 633.10 752.40 626.60" fill="none" stroke="#2f1f8c" stroke-width="2.5"/>
<rect x="748.4" y="624.1" width="6" height="5" fill="#2f1f8c"/>
<rect x="647.9" y="648.0" width="8" height="4" fill="#2f1f8c"/>
<path d="M181.5 656.5 V683.5 M178.0 656.5 H185.0 M178.0 683.5 H185.0" stroke="#e4281e" stroke-width="1.0" fill="none"/>
<path d="M184.5 655.5 V679.5 M181.0 655.5 H188.0 M181.0 679.5 H188.0" stroke="#e4281e" stroke-width="1.0" fill="none"/>
<path d="M186.5 657.5 V682.5 M183.0 657.5 H190.0 M183.0 682.5 H190.0" stroke="#e4281e" stroke-width="1.0" fill="none"/>
<path d="M188.5 661.5 V685.5 M185.0 661.5 H192.0 M185.0 685.5 H192.0" stroke="#e4281e" stroke-width="1.0" fill="none"/>
<path d="M190.5 658.5 V683.5 M187.0 658.5 H194.0 M187.0 683.5 H194.0" stroke="#e4281e" stroke-width="1.0" fill="none"/>
<path d="M192.5 658.5 V685.5 M189.0 658.5 H196.0 M189.0 685.5 H196.0" stroke="#e4281e" stroke-width="1.0" fill="none"/>
<path d="M194.5 655.5 V679.5 M191.0 655.5 H198.0 M191.0 679.5 H198.0" stroke="#e4281e" stroke-width="1.0" fill="none"/>
<path d="M196.5 656.5 V683.5 M193.0 656.5 H200.0 M193.0 683.5 H200.0" stroke="#e4281e" stroke-width="1.0" fill="none"/>
<path d="M198.5 655.5 V683.5 M195.0 655.5 H202.0 M195.0 683.5 H202.0" stroke="#e4281e" stroke-width="1.0" fill="none"/>
<path d="M200.5 659.5 V682.5 M197.0 659.5 H204.0 M197.0 682.5 H204.0" stroke="#e4281e" stroke-width="1.0" fill="none"/>
<path d="M202.5 660.5 V683.5 M199.0 660.5 H206.0 M199.0 683.5 H206.0" stroke="#e4281e" stroke-width="1.0" fill="none"/>
<path d="M204.5 654.5 V681.5 M201.0 654.5 H208.0 M201.0 681.5 H208.0" stroke="#e4281e" stroke-width="1.0" fill="none"/>
<path d="M206.5 659.5 V680.5 M203.0 659.5 H210.0 M203.0 680.5 H210.0" stroke="#e4281e" stroke-width="1.0" fill="none"/>
<path d="M208.5 660.5 V681.5 M205.0 660.5 H212.0 M205.0 681.5 H212.0" stroke="#e4281e" stroke-width="1.0" fill="none"/>
<path d="M210.5 660.5 V683.5 M207.0 660.5 H214.0 M207.0 683.5 H214.0" stroke="#e4281e" stroke-width="1.0" fill="none"/>
<path d="M212.5 663.5 V682.5 M209.0 663.5 H216.0 M209.0 682.5 H216.0" stroke="#e4281e" stroke-width="1.0" fill="none"/>
<path d="M214.5 660.5 V681.5 M211.0 660.5 H218.0 M211.0 681.5 H218.0" stroke="#e4281e" stroke-width="1.0" fill="none"/>
<path d="M216.5 656.5 V680.5 M213.0 656.5 H220.0 M213.0 680.5 H220.0" stroke="#e4281e" stroke-width="1.0" fill="none"/>
<path d="M218.5 658.5 V678.5 M215.0 658.5 H222.0 M215.0 678.5 H222.0" stroke="#e4281e" stroke-width="1.0" fill="none"/>
<path d="M220.5 660.5 V681.5 M217.0 660.5 H224.0 M217.0 681.5 H224.0" stroke="#e4281e" stroke-width="1.0" fill="none"/>
<path d="M222.5 663.5 V685.5 M219.0 663.5 H226.0 M219.0 685.5 H226.0" stroke="#e4281e" stroke-width="1.0" fill="none"/>
<path d="M224.5 659.5 V680.5 M221.0 659.5 H228.0 M221.0 680.5 H228.0" stroke="#e4281e" stroke-width="1.0" fill="none"/>
<path d="M226.5 659.5 V677.5 M223.0 659.5 H230.0 M223.0 677.5 H230.0" stroke="#e4281e" stroke-width="1.0" fill="none"/>
<path d="M228.5 661.5 V677.5 M225.0 661.5 H232.0 M225.0 677.5 H232.0" stroke="#e4281e" stroke-width="1.0" fill="none"/>
<path d="M230.5 661.5 V677.5 M227.0 661.5 H234.0 M227.0 677.5 H234.0" stroke="#e4281e" stroke-width="1.0" fill="none"/>
<path d="M232.5 665.5 V682.5 M229.0 665.5 H236.0 M229.0 682.5 H236.0" stroke="#e4281e" stroke-width="1.0" fill="none"/>
<path d="M234.5 663.5 V679.5 M231.0 663.5 H238.0 M231.0 679.5 H238.0" stroke="#e4281e" stroke-width="1.0" fill="none"/>
<path d="M236.5 664.5 V678.5 M233.0 664.5 H240.0 M233.0 678.5 H240.0" stroke="#e4281e" stroke-width="1.0" fill="none"/>
<path d="M238.5 663.5 V677.5 M235.0 663.5 H242.0 M235.0 677.5 H242.0" stroke="#e4281e" stroke-width="1.0" fill="none"/>
<path d="M240.5 663.5 V677.5 M237.0 663.5 H244.0 M237.0 677.5 H244.0" stroke="#e4281e" stroke-width="1.0" fill="none"/>
<path d="M242.5 663.5 V678.5 M239.0 663.5 H246.0 M239.0 678.5 H246.0" stroke="#e4281e" stroke-width="1.0" fill="none"/>
<path d="M244.5 665.5 V678.5 M241.0 665.5 H248.0 M241.0 678.5 H248.0" stroke="#e4281e" stroke-width="1.0" fill="none"/>
<path d="M246.5 665.5 V677.5 M243.0 665.5 H250.0 M243.0 677.5 H250.0" stroke="#e4281e" stroke-width="1.0" fill="none"/>
<path d="M248.5 664.5 V677.5 M245.0 664.5 H252.0 M245.0 677.5 H252.0" stroke="#e4281e" stroke-width="1.0" fill="none"/>
<path d="M250.5 663.5 V675.5 M247.0 663.5 H254.0 M247.0 675.5 H254.0" stroke="#e4281e" stroke-width="1.0" fill="none"/>
<path d="M252.5 665.5 V675.5 M249.0 665.5 H256.0 M249.0 675.5 H256.0" stroke="#e4281e" stroke-width="1.0" fill="none"/>
<path d="M254.5 666.5 V676.5 M251.0 666.5 H258.0 M251.0 676.5 H258.0" stroke="#e4281e" stroke-width="1.0" fill="none"/>
<path d="M256.5 666.5 V677.5 M253.0 666.5 H260.0 M253.0 677.5 H260.0" stroke="#e4281e" stroke-width="1.0" fill="none"/>
<path d="M259.5 667.5 V675.5 M256.0 667.5 H263.0 M256.0 675.5 H263.0" stroke="#e4281e" stroke-width="1.0" fill="none"/>
<path d="M261.5 665.5 V674.5 M258.0 665.5 H265.0 M258.0 674.5 H265.0" stroke="#e4281e" stroke-width="1.0" fill="none"/>
<path d="M263.5 666.5 V675.5 M260.0 666.5 H267.0 M260.0 675.5 H267.0" stroke="#e4281e" stroke-width="1.0" fill="none"/>
<path d="M265.5 667.5 V675.5 M262.0 667.5 H269.0 M262.0 675.5 H269.0" stroke="#e4281e" stroke-width="1.0" fill="none"/>
<path d="M267.5 666.5 V675.5 M264.0 666.5 H271.0 M264.0 675.5 H271.0" stroke="#e4281e" stroke-width="1.0" fill="none"/>
<path d="M269.5 667.5 V674.5 M266.0 667.5 H273.0 M266.0 674.5 H273.0" stroke="#e4281e" stroke-width="1.0" fill="none"/>
<path d="M271.5 667.5 V674.5 M268.0 667.5 H275.0 M268.0 674.5 H275.0" stroke="#e4281e" stroke-width="1.0" fill="none"/>
<path d="M273.5 666.5 V673.5 M270.0 666.5 H277.0 M270.0 673.5 H277.0" stroke="#e4281e" stroke-width="1.0" fill="none"/>
<path d="M275.5 666.5 V673.5 M272.0 666.5 H279.0 M272.0 673.5 H279.0" stroke="#e4281e" stroke-width="1.0" fill="none"/>
<path d="M277.5 667.5 V675.5 M274.0 667.5 H281.0 M274.0 675.5 H281.0" stroke="#e4281e" stroke-width="1.0" fill="none"/>
<path d="M279.5 665.5 V673.5 M276.0 665.5 H283.0 M276.0 673.5 H283.0" stroke="#e4281e" stroke-width="1.0" fill="none"/>
<path d="M281.5 665.5 V672.5 M278.0 665.5 H285.0 M278.0 672.5 H285.0" stroke="#e4281e" stroke-width="1.0" fill="none"/>
<path d="M181.99 669.41 C182.60 668.75 183.12 667.18 184.02 667.22 C184.95 667.26 185.50 668.81 186.04 669.57 C186.73 670.54 186.92 672.70 188.07 672.95 C189.02 673.15 189.21 670.82 190.10 670.44 C190.69 670.18 191.62 671.61 192.12 671.20 C193.18 670.35 192.92 667.73 194.15 667.16 C194.96 666.78 195.39 668.91 196.18 669.31 C196.72 669.59 197.62 669.06 198.20 669.21 C198.88 669.38 199.61 670.03 200.23 670.35 C200.83 670.66 201.71 671.72 202.26 671.32 C203.33 670.55 203.04 667.85 204.29 667.40 C205.18 667.08 205.58 669.25 206.31 669.86 C206.83 670.28 207.72 670.54 208.34 670.78 C208.93 671.00 209.78 671.15 210.37 671.40 C211.00 671.67 211.73 672.69 212.39 672.50 C213.27 672.24 213.80 670.89 214.42 670.22 C215.01 669.58 215.68 668.55 216.45 668.13 C216.98 667.85 217.93 667.76 218.47 668.04 C219.27 668.44 219.99 669.47 220.50 670.20 C221.21 671.20 221.31 673.88 222.53 673.74 C223.86 673.59 223.79 670.85 224.55 669.75 C225.03 669.06 225.76 668.00 226.58 667.85 C227.26 667.71 227.96 668.72 228.61 668.96 C229.19 669.16 230.22 668.84 230.64 669.30 C231.57 670.34 231.41 672.88 232.66 673.49 C233.46 673.89 233.93 671.79 234.69 671.31 C235.21 670.98 236.12 671.08 236.72 670.92 C237.33 670.77 238.12 670.41 238.74 670.29 C239.34 670.17 240.16 670.18 240.77 670.15 C241.38 670.11 242.22 669.84 242.80 670.03 C243.51 670.27 244.09 671.34 244.82 671.50 C245.45 671.63 246.23 671.02 246.85 670.88 C247.45 670.74 248.32 670.82 248.88 670.57 C249.57 670.26 250.15 669.10 250.90 669.05 C251.61 669.00 252.32 669.92 252.93 670.28 C253.54 670.64 254.27 671.29 254.96 671.46 C255.55 671.60 256.38 671.34 256.99 671.25 C257.60 671.15 258.46 671.11 259.01 670.82 C259.72 670.46 260.25 669.19 261.04 669.13 C261.77 669.07 262.42 670.14 263.07 670.49 C263.64 670.80 264.44 671.34 265.09 671.30 C265.78 671.26 266.45 670.41 267.12 670.25 C267.71 670.11 268.54 670.36 269.15 670.35 C269.76 670.34 270.58 670.34 271.17 670.20 C271.81 670.05 272.55 669.44 273.20 669.38 C273.82 669.32 274.64 669.62 275.23 669.83 C275.86 670.06 276.59 670.91 277.25 670.82 C278.02 670.71 278.62 669.63 279.28 669.25 C279.84 668.92 280.67 668.61 281.31 668.48 C283.77 667.98 287.14 667.82 289.56 667.15 C293.00 666.20 297.20 663.55 300.73 663.08 C304.07 662.63 308.63 663.35 311.90 664.15 C316.35 665.23 321.89 667.95 326.27 669.30 C330.04 670.46 335.17 671.70 339.04 672.52 C344.27 673.63 351.27 675.19 356.59 675.74 C361.36 676.22 367.80 676.54 372.55 675.95 C377.23 675.37 383.17 673.13 387.71 671.87 C392.27 670.62 398.22 668.42 402.88 667.58 C409.04 666.48 417.38 665.84 423.62 665.44 C431.27 664.94 441.51 665.06 449.16 664.58 C456.84 664.09 467.04 662.98 474.70 662.22 C483.80 661.31 495.92 659.98 505.02 659.00 C513.16 658.12 523.99 656.70 532.15 655.99 C540.28 655.29 551.15 654.85 559.28 654.28 C569.34 653.57 582.75 652.48 592.80 651.70 C611.95 650.23 637.48 648.17 656.64 646.77 C671.00 645.72 690.16 644.52 704.52 643.55 C718.88 642.58 738.04 641.30 752.40 640.33" fill="none" stroke="#e4281e" stroke-width="2.6" stroke-linejoin="round"/>
<path d="M339.04 672.52 C344.30 673.48 351.27 675.19 356.59 675.74 C361.36 676.22 367.76 675.89 372.55 675.95" fill="none" stroke="#e4281e" stroke-width="3.2"/>
</g>
<rect x="372" y="802" width="366" height="91" fill="#fff"/>
<line x1="382.8" y1="819.3" x2="419.8" y2="819.3" stroke="#2b4fb8" stroke-width="2.5"/>
<line x1="382.5" y1="847.7" x2="419.8" y2="847.7" stroke="#2f1f8c" stroke-width="2.5"/>
<line x1="382.5" y1="877.4" x2="419.8" y2="877.4" stroke="#e4281e" stroke-width="2.5"/>
<line x1="399.7" y1="875" x2="399.7" y2="878" stroke="#e4281e" stroke-width="1.5"/>
<text transform="translate(423.84,827.90) scale(1.0972,1)" font-size="22.50" font-weight="normal" fill="#2f55bf" stroke="#2f55bf" stroke-width="0.25" stroke-linejoin="round">low peening intensity (5A)</text>
<text transform="translate(423.77,857.00) scale(1.1106,1)" font-size="22.50" font-weight="normal" fill="#2f1f8c" stroke="#2f1f8c" stroke-width="0.25" stroke-linejoin="round">high peening intensity (13A)</text>
<g transform="translate(423.77,857.00) scale(1.1106,1)" fill="#fff"><rect x="231.84" y="-2.91" width="4.86" height="3.90"/><rect x="239.41" y="-2.91" width="4.74" height="3.90"/></g>
<text transform="translate(424.34,885.80) scale(1.0864,1)" font-size="22.50" font-weight="normal" fill="#e4281e" stroke="#e4281e" stroke-width="0.25" stroke-linejoin="round">without shot peening</text>
</svg></body></html>
